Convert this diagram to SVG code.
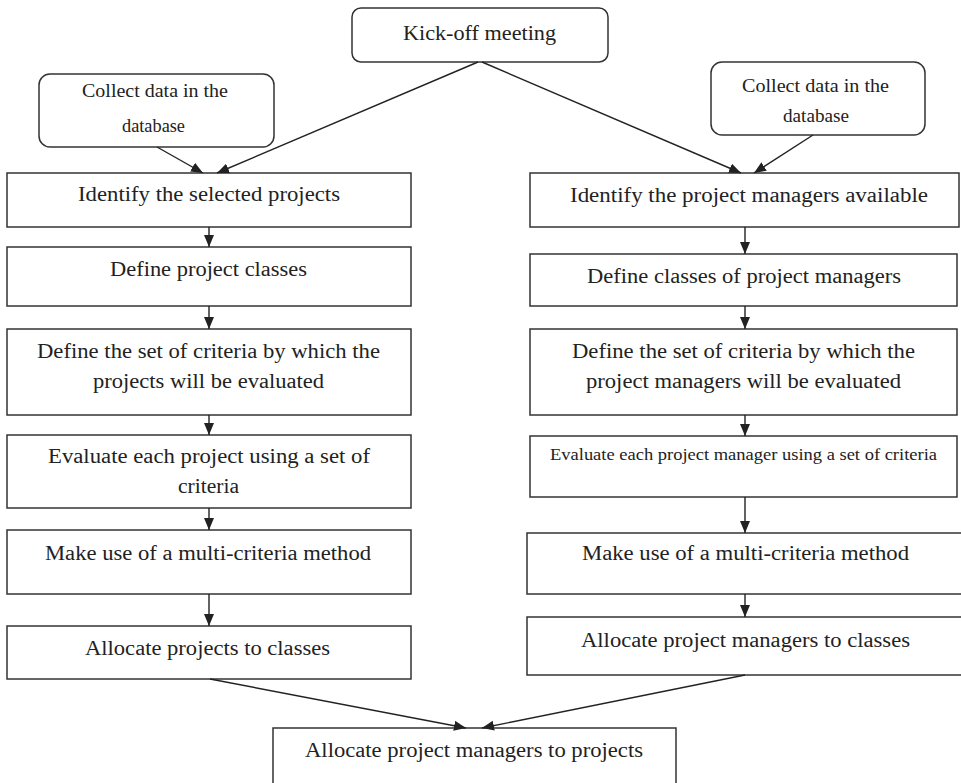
<svg xmlns="http://www.w3.org/2000/svg" width="961" height="783" viewBox="0 0 961 783">
<defs>
<style>
.box{fill:#fff;stroke:#333;stroke-width:1.5}
.t{font-family:"Liberation Serif","Times New Roman",serif;fill:#222;text-anchor:middle}
.m{font-size:20px}
.s{font-size:18px}
.xs{font-size:17px}
.k{font-size:21px}
.c{stroke:#222;stroke-width:1.4;fill:none;marker-end:url(#ah)}
</style>
<marker id="ah" viewBox="0 0 12 10" refX="12" refY="5" markerWidth="12" markerHeight="10" markerUnits="userSpaceOnUse" orient="auto">
<path d="M0,0 L12,5 L0,10 z" fill="#222"/>
</marker>
</defs>
<rect width="961" height="783" fill="#fff"/>

<g id="kickoff">
<rect class="box" x="352" y="8" width="256" height="54" rx="9"/>
<text class="t k" x="479.5" y="40" textLength="153" lengthAdjust="spacingAndGlyphs">Kick-off meeting</text>
</g>
<g id="collect-left">
<rect class="box" x="39" y="74" width="235" height="73" rx="11"/>
<text class="t s" x="155" y="97" textLength="146" lengthAdjust="spacingAndGlyphs">Collect data in the</text>
<text class="t s" x="153.5" y="132" textLength="63" lengthAdjust="spacingAndGlyphs">database</text>
</g>
<g id="collect-right">
<rect class="box" x="711" y="62" width="214" height="73" rx="11"/>
<text class="t s" x="815.5" y="92" textLength="147" lengthAdjust="spacingAndGlyphs">Collect data in the</text>
<text class="t s" x="816" y="122" textLength="66" lengthAdjust="spacingAndGlyphs">database</text>
</g>

<g id="identify-projects">
<rect class="box" x="7" y="173" width="404" height="54"/>
<text class="t m" x="209" y="201" textLength="262" lengthAdjust="spacingAndGlyphs">Identify  the selected projects</text>
</g>
<g id="define-project-classes">
<rect class="box" x="7" y="247" width="404" height="59"/>
<text class="t m" x="208.5" y="276" textLength="197" lengthAdjust="spacingAndGlyphs">Define project classes</text>
</g>
<g id="criteria-projects">
<rect class="box" x="7" y="329" width="404" height="86"/>
<text class="t m" x="208.5" y="358" textLength="343" lengthAdjust="spacingAndGlyphs">Define the set of criteria by which the</text>
<text class="t m" x="208.5" y="388" textLength="231" lengthAdjust="spacingAndGlyphs">projects will be evaluated</text>
</g>
<g id="evaluate-projects">
<rect class="box" x="7" y="435" width="404" height="73"/>
<text class="t m" x="209" y="463" textLength="322" lengthAdjust="spacingAndGlyphs">Evaluate each project using a set of</text>
<text class="t m" x="208.5" y="493" textLength="61" lengthAdjust="spacingAndGlyphs">criteria</text>
</g>
<g id="mcm-projects">
<rect class="box" x="7" y="530" width="404" height="64"/>
<text class="t m" x="208" y="560" textLength="326" lengthAdjust="spacingAndGlyphs">Make use of a multi-criteria  method</text>
</g>
<g id="allocate-projects">
<rect class="box" x="7" y="626" width="404" height="53"/>
<text class="t m" x="207.5" y="655" textLength="245" lengthAdjust="spacingAndGlyphs">Allocate projects to classes</text>
</g>

<g id="identify-managers">
<rect class="box" x="530" y="173" width="429" height="54"/>
<text class="t m" x="749" y="202" textLength="358" lengthAdjust="spacingAndGlyphs">Identify  the project managers  available</text>
</g>
<g id="define-manager-classes">
<rect class="box" x="530" y="254" width="427" height="52"/>
<text class="t m" x="744" y="283" textLength="314" lengthAdjust="spacingAndGlyphs">Define  classes of project managers</text>
</g>
<g id="criteria-managers">
<rect class="box" x="530" y="329" width="427" height="86"/>
<text class="t m" x="743.5" y="358" textLength="343" lengthAdjust="spacingAndGlyphs">Define the set of criteria by which the</text>
<text class="t m" x="743.5" y="388" textLength="315" lengthAdjust="spacingAndGlyphs">project managers will be evaluated</text>
</g>
<g id="evaluate-managers">
<rect class="box" x="530" y="436" width="427" height="61"/>
<text class="t xs" x="743.5" y="460" textLength="387" lengthAdjust="spacingAndGlyphs">Evaluate each project manager using a set of criteria</text>
</g>
<g id="mcm-managers">
<rect class="box" x="527" y="533" width="436" height="61"/>
<text class="t m" x="745.5" y="560" textLength="327" lengthAdjust="spacingAndGlyphs">Make use of a multi-criteria  method</text>
</g>
<g id="allocate-managers">
<rect class="box" x="527" y="617" width="436" height="58"/>
<text class="t m" x="745.5" y="647" textLength="329" lengthAdjust="spacingAndGlyphs">Allocate  project managers to classes</text>
</g>

<g id="allocate-final">
<rect class="box" x="273" y="728" width="403" height="65"/>
<text class="t m" x="474" y="757" textLength="338" lengthAdjust="spacingAndGlyphs">Allocate project managers to projects</text>
</g>

<g id="connectors">
<line class="c" x1="478" y1="62" x2="217" y2="173"/>
<line class="c" x1="482" y1="62" x2="741" y2="173"/>
<line class="c" x1="157" y1="147" x2="203" y2="173"/>
<line class="c" x1="813" y1="135" x2="754" y2="173"/>
<line class="c" x1="209" y1="227" x2="209" y2="247"/>
<line class="c" x1="209" y1="306" x2="209" y2="329"/>
<line class="c" x1="209" y1="415" x2="209" y2="435"/>
<line class="c" x1="209" y1="508" x2="209" y2="530"/>
<line class="c" x1="209" y1="594" x2="209" y2="626"/>
<line class="c" x1="745" y1="227" x2="745" y2="254"/>
<line class="c" x1="745" y1="306" x2="745" y2="329"/>
<line class="c" x1="745" y1="415" x2="745" y2="436"/>
<line class="c" x1="745" y1="497" x2="745" y2="533"/>
<line class="c" x1="745" y1="594" x2="745" y2="617"/>
<line class="c" x1="210" y1="679" x2="466" y2="728"/>
<line class="c" x1="745" y1="675" x2="482" y2="728"/>
</g>
</svg>
